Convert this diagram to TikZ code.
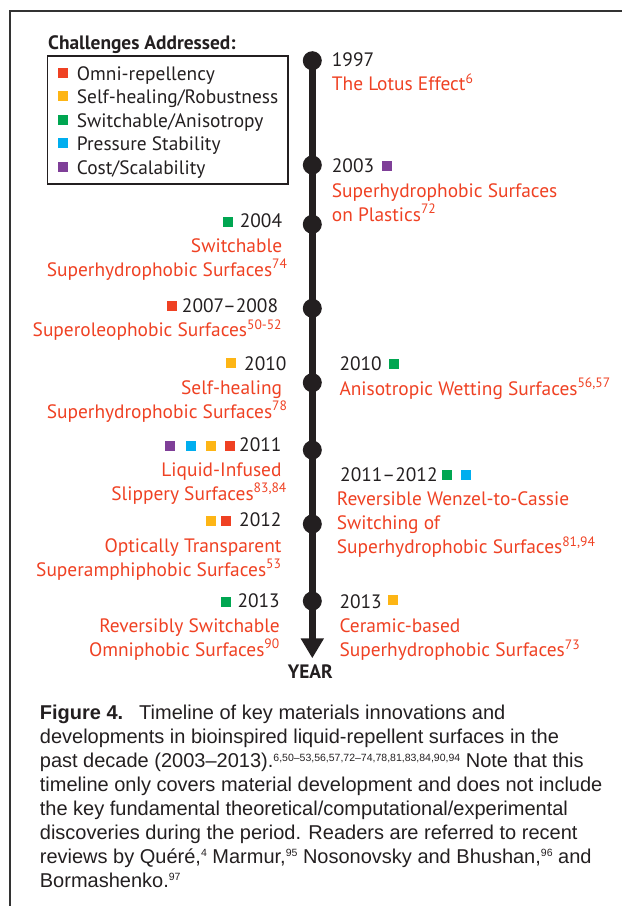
\documentclass[tikz,border=0pt]{standalone}
\usepackage{fontspec}
\setmainfont{PT Sans}
\newfontfamily\capfont[Ligatures=TeX]{Liberation Sans}
\usetikzlibrary{arrows.meta,positioning}

\definecolor{txtdark}{HTML}{231F20}
\definecolor{ttlred}{HTML}{EF4123}
\definecolor{sqred}{HTML}{EF4123}
\definecolor{sqorange}{HTML}{FDB515}
\definecolor{sqgreen}{HTML}{00A651}
\definecolor{sqblue}{HTML}{00AEEF}
\definecolor{sqpurple}{HTML}{7F3F98}

\newcommand{\lblfont}{\fontsize{19.4}{24}\selectfont}
\newcommand{\rf}[1]{\textsuperscript{#1}}
\newcommand{\capref}[1]{\raisebox{6.5pt}{\fontsize{10.5}{10.5}\selectfont #1}}

\tikzset{
  dot/.style={circle, fill=txtdark, minimum size=19pt, inner sep=0pt},
  yearlbl/.style={font=\lblfont, text=txtdark, inner sep=0pt},
  evtlbl/.style={font=\lblfont, text=ttlred, inner sep=0pt},
  chip/.style={minimum size=10pt, inner sep=0pt, fill=#1},
}

\begin{document}
\begin{tikzpicture}[x=1pt,y=-1pt]
        \useasboundingbox (0,0) rectangle (622,906);
        % Draw page frame
        \draw[line width=1.5pt, black!80] (10,906) -- (10,11) -- (622,11);

        % Legend
        \node[font=\lblfont\bfseries, text=txtdark, inner sep=0pt, anchor=base west] (legtitle) at (48,49.3) {Challenges Addressed:};
        \draw[line width=1.7pt, txtdark] (47.5,56) rectangle (288,184);
        \foreach \c/\t [count=\i] in {sqred/Omni-repellency, sqorange/{Self-healing/Robustness}, sqgreen/{Switchable/Anisotropy}, sqblue/Pressure Stability, sqpurple/{Cost/Scalability}} {
            \node[chip=\c] (legsq\i) at (62.7,{72.5+23.5*(\i-1)}) {};
            \node[yearlbl, anchor=base west] (leg\i) at (76.7,{80+23.5*(\i-1)}) {\t};
        }

        % Draw timeline dots
        \foreach \n/\y in {1997/60.7, 2003/165, 2004/224.3, 2008/308.3, 2010/382.7, 2011/450, 2012/524, 2013/601} {
            \node[dot] (d\n) at (312.3,\y) {};
        }
        \coordinate (yearend) at (312.3,658.3);
        \draw[line width=7pt, txtdark, -{Triangle[width=22pt,length=20pt]}] (d1997.center) -- (yearend);
        \node[font=\lblfont\bfseries, text=txtdark, inner sep=0pt, anchor=base] (yearlabel) at (310.3,678.3) {YEAR};

        % Right side events (multi-line nodes sit on their last line)
        \node[yearlbl, anchor=base west] (y1997) at (331.7,66.7) {1997};
        \node[evtlbl, anchor=base west] (t1997) at (331.7,90.7) {The Lotus Effect\rf{6}};

        \node[yearlbl, anchor=base west] (y2003) at (331.7,172.3) {2003};
        \node[chip=sqpurple] (s2003) at (387,165.7) {};
        \node[evtlbl, anchor=base west, align=left] (t2003) at (331.7,221.3) {Superhydrophobic Surfaces\\on Plastics\rf{72}};

        \node[yearlbl, anchor=base west] (y2010r) at (339.3,370.7) {2010};
        \node[chip=sqgreen] (s2010r) at (394.3,364) {};
        \node[evtlbl, anchor=base west] (t2010r) at (339.3,395) {Anisotropic Wetting Surfaces\rf{56,57}};

        \node[yearlbl, anchor=base west] (y2012r) at (340,481.7) {2011--2012};
        \node[chip=sqgreen] (s2012a) at (446.7,475) {};
        \node[chip=sqblue] (s2012b) at (465.7,475) {};
        \node[evtlbl, anchor=base west, align=left] (t2012r) at (336.7,553.7) {Reversible Wenzel-to-Cassie\\Switching of\\Superhydrophobic Surfaces\rf{81,94}};

        \node[yearlbl, anchor=base west] (y2013r) at (339.3,608.3) {2013};
        \node[chip=sqorange] (s2013r) at (392.7,600) {};
        \node[evtlbl, anchor=base west, align=left] (t2013r) at (339.3,656.7) {Ceramic-based\\Superhydrophobic Surfaces\rf{73}};

        % Left side events
        \node[yearlbl, anchor=base east] (y2004) at (282.3,227.3) {2004};
        \node[chip=sqgreen] (s2004) at (227.7,221.7) {};
        \node[evtlbl, anchor=base east, align=right] (t2004) at (282.3,276.3) {Switchable\\Superhydrophobic Surfaces\rf{74}\kern-5.4pt};

        \node[yearlbl, anchor=base east] (y2008) at (278.3,312.7) {2007--2008};
        \node[chip=sqred] (s2008) at (171.7,306) {};
        \node[evtlbl, anchor=base east] (t2008) at (282.3,336.7) {Superoleophobic Surfaces\rf{50-52}};

        \node[yearlbl, anchor=base east] (y2010l) at (286.7,370) {2010};
        \node[chip=sqorange] (s2010l) at (231.3,362.7) {};
        \node[evtlbl, anchor=base east, align=right] (t2010l) at (282.3,418) {Self-healing\\Superhydrophobic Surfaces\rf{78}\kern-5.4pt};

        \node[yearlbl, anchor=base east] (y2011) at (281.7,451.7) {2011};
        \foreach \c/\x [count=\i] in {sqpurple/170, sqblue/190.7, sqorange/210.7, sqred/230} {
            \node[chip=\c] (s2011\i) at (\x,445.7) {};
        }
        \node[evtlbl, anchor=base east, align=right] (t2011) at (281.7,500) {Liquid-Infused\\Slippery Surfaces\rf{83,84}\kern-5.4pt};

        \node[yearlbl, anchor=base east] (y2012l) at (281.7,526.7) {2012};
        \node[chip=sqorange] (s2012l1) at (210.8,521) {};
        \node[chip=sqred] (s2012l2) at (226,521) {};
        \node[evtlbl, anchor=base east, align=right] (t2012l) at (281.7,576.3) {Optically Transparent\\Superamphiphobic Surfaces\rf{53}};

        \node[yearlbl, anchor=base east] (y2013l) at (280,607.3) {2013};
        \node[chip=sqgreen] (s2013l) at (226,601.7) {};
        \node[evtlbl, anchor=base east, align=right] (t2013l) at (280,656.3) {Reversibly Switchable\\Omniphobic Surfaces\rf{90}};

        % Caption
        \node[font=\capfont\fontsize{20}{23.9}\selectfont, text=txtdark, inner sep=0pt, anchor=base west, align=left] (caption) at (39.7,887.2)
            {\textbf{Figure 4.}\hspace{16pt}Timeline of key materials innovations and\\
             developments in bioinspired liquid-repellent surfaces in the\\
             past decade (2003--2013).\capref{6,50--53,56,57,72--74,78,81,83,84,90,94} Note that this\\
             timeline only covers material development and does not include\\
             the key fundamental theoretical/computational/experimental\\
             discoveries during the period. Readers are referred to recent\\
             reviews by Quéré,\capref{4} Marmur,\capref{95} Nosonovsky and Bhushan,\capref{96} and\\
             Bormashenko.\capref{97}};
\end{tikzpicture}
\end{document}
